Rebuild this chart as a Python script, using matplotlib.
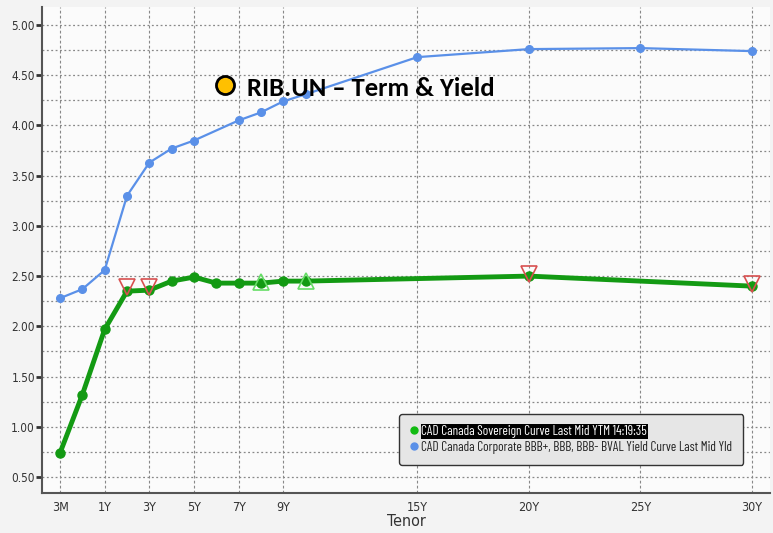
import matplotlib
matplotlib.use("Agg")
import matplotlib.pyplot as plt
from matplotlib.lines import Line2D
from matplotlib import font_manager as fm

# ---- data ----
tick_labels = ['3M', '1Y', '3Y', '5Y', '7Y', '9Y', '15Y', '20Y', '25Y', '30Y']
tick_pos = [-1, 1, 3, 5, 7, 9, 15, 20, 25, 30]

corp_tenor = [-1, 0, 1, 2, 3, 4, 5, 7, 8, 9, 10, 15, 20, 25, 30]
corp_yield = [2.28, 2.37, 2.56, 3.30, 3.63, 3.77, 3.85, 4.05, 4.13, 4.24, 4.31, 4.68, 4.76, 4.77, 4.74]

sov_tenor = [-1, 0, 1, 2, 3, 4, 5, 6, 7, 8, 9, 10, 20, 30]
sov_yield = [0.74, 1.32, 1.97, 2.35, 2.36, 2.45, 2.49, 2.43, 2.43, 2.43, 2.45, 2.45, 2.50, 2.40]

bond_dn_tenor = [2, 3, 20, 30]
bond_dn_yield = [2.39, 2.39, 2.52, 2.42]
bond_up_tenor = [8, 10]
bond_up_yield = [2.44, 2.45]

legend_labels = ['CAD Canada Sovereign Curve Last Mid YTM 14:19:35',
                 'CAD Canada Corporate BBB+, BBB, BBB- BVAL Yield Curve Last Mid Yld']
title_text = 'RIB.UN \u2013 Term & Yield'

# ---- fonts ----
avail = {f.name for f in fm.fontManager.ttflist}
title_font = 'Carlito' if 'Carlito' in avail else 'Open Sans'
cond = dict(family='DejaVu Sans', stretch='condensed')
leg_family = 'Barlow Condensed' if 'Barlow Condensed' in avail else 'DejaVu Sans'

fig = plt.figure(figsize=(7.73, 5.33), dpi=100, facecolor='#f3f3f3')
ax = fig.add_axes([0.0543, 0.075, 0.9417, 0.912])
ax.set_facecolor('#fbfbfb')

ax.set_xlim(-1.81, 30.8)
ax.set_ylim(0.34, 5.18)

# grid
ax.set_yticks([0.5 + 0.5 * i for i in range(10)])
ax.set_yticks([0.75 + 0.5 * i for i in range(9)], minor=True)
ax.set_yticklabels([f'{0.5 + 0.5 * i:.2f}' for i in range(10)], fontsize=8.5, **cond)
ax.set_xticks(tick_pos)
ax.set_xticklabels(tick_labels, fontsize=9, **cond)
ax.grid(True, which='both', axis='y', color='#888888', linestyle=(0, (1.5, 2)), linewidth=0.9)
ax.grid(True, which='major', axis='x', color='#888888', linestyle=(0, (2.5, 2)), linewidth=0.8)
ax.set_axisbelow(True)
ax.tick_params(axis='y', which='major', direction='out', length=4, width=2, color='#333333', pad=1, labelcolor='#333333')
ax.tick_params(axis='y', which='minor', length=0)
ax.tick_params(axis='x', length=0, pad=6, labelcolor='#333333')
for s in ['top', 'right']:
    ax.spines[s].set_visible(False)
for s in ['left', 'bottom']:
    ax.spines[s].set_color('#555555')
    ax.spines[s].set_linewidth(1.5)

# series
ax.plot(corp_tenor, corp_yield, color='#5a90e8', linewidth=1.6, marker='o', markersize=5.5, zorder=3)
ax.plot(sov_tenor, sov_yield, color='#139a13', linewidth=3.5, marker='o', markersize=6.5, zorder=4)
ax.plot(bond_dn_tenor, bond_dn_yield, linestyle='none', marker='v', markersize=12,
        markerfacecolor='none', markeredgecolor='#d85050', markeredgewidth=1.2, zorder=5)
ax.plot(bond_up_tenor, bond_up_yield, linestyle='none', marker='^', markersize=12,
        markerfacecolor='none', markeredgecolor='#66dd66', markeredgewidth=1.2, zorder=5)

ax.set_xlabel('Tenor', fontsize=11.5, color='#333333', labelpad=0, **cond)

# legend
handles = [Line2D([], [], linestyle='none', marker='o', color='#11bb11', markersize=5),
           Line2D([], [], linestyle='none', marker='o', color='#5a90e8', markersize=5)]

def make_legend(size, lsp, bpad):
    lg = ax.legend(handles, legend_labels, loc='upper left', bbox_to_anchor=(0.4904, 0.1626),
                   borderaxespad=0,
                   prop={'family': leg_family, 'size': size},
                   frameon=True, fancybox=True,
                   facecolor='#e6e6e6', edgecolor='#333333', framealpha=1,
                   handlelength=0.6, handletextpad=0.25, labelspacing=lsp, borderpad=bpad)
    return lg

size, lsp, bpad = 10.0, 0.3, 0.6
leg = make_legend(size, lsp, bpad)
for _ in range(5):
    fig.canvas.draw()
    r = fig.canvas.get_renderer()
    tx = leg.get_texts()
    fr = leg.get_frame().get_window_extent(r)
    e0 = tx[0].get_window_extent(r)
    e1 = tx[1].get_window_extent(r)
    dy = (e0.y0 + e0.y1) / 2 - (e1.y0 + e1.y1) / 2
    fpx = size * 100 / 72
    size = size * (344.0 - (fr.width - e1.width)) / e1.width
    lsp = max(0.0, lsp + (16 - dy) / fpx)
    bpad = max(0.1, bpad + (51 - fr.height) / 2 / fpx)
    leg.remove()
    leg = make_legend(size, lsp, bpad)

leg.get_frame().set_linewidth(1.0)
t0 = leg.get_texts()[0]
t0.set_color('white')
t0.set_bbox(dict(facecolor='black', edgecolor='none', pad=0.5))
leg.get_texts()[1].set_color('#222222')

# title annotation
ax.plot([225 / 773], [1 - 85 / 533], transform=fig.transFigure, marker='o', markersize=13,
        markerfacecolor='#ffc000', markeredgecolor='black', markeredgewidth=2, clip_on=False, zorder=6)
tt = fig.text(247 / 773, 1 - 88 / 533, title_text, fontfamily=title_font, fontweight='bold', fontsize=16,
              color='black', va='center', ha='left', zorder=7)
fig.canvas.draw()
tw = tt.get_window_extent(fig.canvas.get_renderer()).width
tt.set_fontsize(16 * 248.0 / tw)

fig.savefig('out.png', dpi=100, facecolor=fig.get_facecolor())
